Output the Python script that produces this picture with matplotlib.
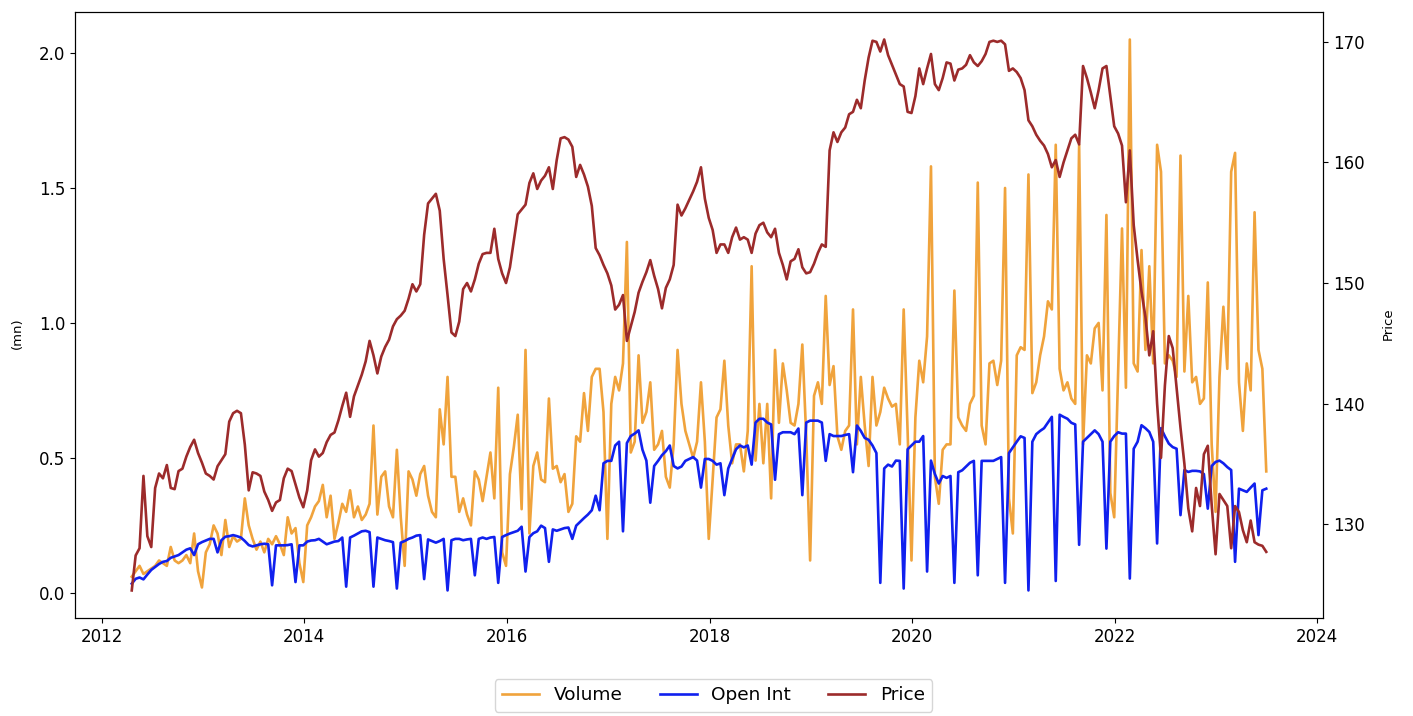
import matplotlib
matplotlib.use("Agg")
import matplotlib.pyplot as plt
import matplotlib.dates as mdates
from matplotlib.ticker import MultipleLocator
import pandas as pd

# ---- data (bi-weekly samples, Apr-2012 .. Jul-2023) ----
start_date = "2012-04-19"
end_date = "2023-07-01"

price = [
    # 2012.3 - 2014.2
    124.5, 127.4, 128.0, 134.0, 129.0, 128.1, 133.0, 134.2, 133.8, 134.9,
    133.0, 132.9, 134.4, 134.6, 135.6, 136.4, 137.0, 135.9, 135.1, 134.2,
    134.0, 133.7, 134.8, 135.3, 135.8, 138.5, 139.2, 139.4, 139.2, 136.6,
    132.8, 134.3, 134.2, 134.0, 132.7, 132.0, 131.1, 131.8, 132.0, 133.8,
    134.6, 134.4, 133.3, 132.2, 131.4, 132.8, 135.3, 136.2, 135.6, 135.9,
    136.8,
    # 2014.3 - 2016.1
    137.4, 137.6, 138.6, 139.8, 140.9, 138.9, 140.6, 141.5, 142.4, 143.5,
    145.2, 144.0, 142.5, 143.9, 144.7, 145.3, 146.4, 147.0, 147.3, 147.7,
    148.7, 149.9, 149.3, 149.9, 154.0, 156.6, 157.0, 157.4, 156.0, 152.0,
    149.0, 145.9, 145.6, 146.8, 149.5, 150.0, 149.3, 150.3, 151.6, 152.4,
    152.5, 152.5, 154.5, 152.0, 150.8, 150.0, 151.3, 153.5, 155.7,
    # 2016.1 - 2018.1
    156.1, 156.5, 158.3, 159.1, 157.8, 158.5, 158.9, 159.6, 157.8, 160.2,
    162.0, 162.1, 161.9, 161.3, 158.8, 159.8, 159.0, 158.0, 156.4, 152.9,
    152.3, 151.5, 150.8, 149.8, 147.8, 148.2, 149.0, 145.2, 146.4, 147.6,
    149.2, 150.1, 150.9, 151.9, 150.6, 149.5, 147.9, 149.6, 150.3, 151.5,
    156.5, 155.6, 156.2, 156.9, 157.6, 158.4, 159.6, 157.0, 155.4, 154.4,
    152.5, 153.2,
    # 2018.1 - 2020.1
    153.2, 152.5, 153.8, 154.6, 153.6, 153.8, 153.6, 152.5, 154.1, 154.8,
    155.0, 154.2, 153.8, 154.5, 152.5, 151.5, 150.3, 151.8, 152.0, 152.8,
    151.3, 150.8, 150.9, 151.6, 152.5, 153.2, 153.0, 161.0, 162.5, 161.7,
    162.5, 162.9, 164.0, 164.2, 165.2, 164.5, 166.8, 168.7, 170.1, 170.0,
    169.2, 170.2, 168.9, 168.1, 167.3, 166.5, 166.3, 164.2, 164.1, 165.5,
    167.8,
    # 2020.1 - 2021.1
    166.5, 167.8, 169.0, 166.5, 166.0, 167.0, 168.3, 168.2, 166.8, 167.7,
    167.8, 168.1, 168.9, 168.3, 168.0, 168.4, 169.0, 170.0, 170.1, 170.0,
    170.1, 169.8, 167.6, 167.8, 167.5, 167.0,
    # 2021.1 - 2022.0
    166.0, 163.5, 163.0, 162.3, 161.8, 161.4, 160.7, 159.6, 160.2, 158.8,
    160.0, 161.0, 162.0, 162.3, 161.5, 168.0, 167.0, 165.8, 164.5, 166.0,
    167.8, 168.0, 165.5, 163.0, 162.4,
    # 2022.1 - 2023.5
    161.4, 156.7, 161.0, 154.8, 151.9, 149.3, 147.2, 144.0, 146.0, 140.0,
    135.5, 141.5, 145.6, 144.6, 141.3, 138.0, 135.0, 131.3, 129.4, 133.0,
    131.5, 135.8, 136.5, 131.6, 127.5, 132.5, 132.0, 131.5, 128.0, 131.5,
    131.0, 129.5, 128.5, 130.3, 128.5, 128.3, 128.2, 127.7,
]

volume = [
    0.06, 0.08, 0.10, 0.07, 0.08, 0.09, 0.10, 0.12, 0.11, 0.10,
    0.17, 0.12, 0.11, 0.12, 0.14, 0.11, 0.22, 0.08, 0.02, 0.15,
    0.18, 0.25, 0.22, 0.14, 0.27, 0.17, 0.21, 0.19, 0.20, 0.35,
    0.25, 0.20, 0.16, 0.19, 0.15, 0.20, 0.18, 0.21, 0.18, 0.14,
    0.28, 0.22, 0.24, 0.11, 0.04, 0.25, 0.28, 0.32, 0.34, 0.40,
    0.28,
    0.36, 0.20, 0.26, 0.33, 0.30, 0.38, 0.28, 0.32, 0.27, 0.29,
    0.33, 0.62, 0.29, 0.43, 0.45, 0.32, 0.28, 0.53, 0.28, 0.10,
    0.45, 0.42, 0.36, 0.44, 0.47, 0.36, 0.30, 0.28, 0.68, 0.55,
    0.80, 0.43, 0.43, 0.30, 0.35, 0.29, 0.25, 0.45, 0.42, 0.34,
    0.43, 0.52, 0.35, 0.76, 0.15, 0.10, 0.44, 0.54, 0.66,
    0.31, 0.90, 0.22, 0.47, 0.52, 0.42, 0.41, 0.72, 0.46, 0.47,
    0.41, 0.44, 0.30, 0.33, 0.58, 0.56, 0.74, 0.60, 0.80, 0.83,
    0.83, 0.67, 0.20, 0.70, 0.80, 0.75, 0.85, 1.30, 0.52, 0.56,
    0.88, 0.63, 0.67, 0.78, 0.53, 0.55, 0.60, 0.43, 0.39, 0.55,
    0.90, 0.70, 0.60, 0.55, 0.50, 0.56, 0.78, 0.56, 0.20, 0.42,
    0.65, 0.68,
    0.86, 0.62, 0.48, 0.55, 0.55, 0.45, 0.60, 1.21, 0.49, 0.70,
    0.48, 0.70, 0.35, 0.90, 0.63, 0.85, 0.75, 0.63, 0.62, 0.70,
    0.92, 0.58, 0.12, 0.73, 0.78, 0.70, 1.10, 0.77, 0.84, 0.58,
    0.53, 0.60, 0.62, 1.05, 0.55, 0.80, 0.62, 0.47, 0.80, 0.62,
    0.67, 0.76, 0.72, 0.69, 0.70, 0.55, 1.05, 0.60, 0.12, 0.65,
    0.86,
    0.78, 0.95, 1.58, 0.43, 0.33, 0.53, 0.55, 0.55, 1.12, 0.65,
    0.62, 0.60, 0.70, 0.73, 1.52, 0.62, 0.55, 0.85, 0.86, 0.77,
    0.86, 1.50, 0.35, 0.22, 0.88, 0.91,
    0.90, 1.55, 0.74, 0.78, 0.88, 0.95, 1.08, 1.05, 1.66, 0.83,
    0.75, 0.78, 0.72, 0.70, 1.66, 0.55, 0.88, 0.85, 0.98, 1.00,
    0.75, 1.40, 0.37, 0.28, 0.82,
    1.35, 0.76, 2.05, 0.85, 0.82, 1.27, 0.90, 1.21, 0.85, 1.66,
    1.56, 0.85, 0.88, 0.86, 0.80, 1.62, 0.82, 1.10, 0.78, 0.80,
    0.70, 0.72, 1.15, 0.55, 0.30, 0.80, 1.06, 0.83, 1.56, 1.63,
    0.78, 0.60, 0.85, 0.75, 1.41, 0.90, 0.83, 0.45,
]

open_int = [
    0.034, 0.052, 0.057, 0.050, 0.068, 0.085, 0.096, 0.107, 0.115, 0.118,
    0.130, 0.135, 0.140, 0.150, 0.160, 0.165, 0.140, 0.180, 0.188, 0.194,
    0.200, 0.200, 0.150, 0.195, 0.208, 0.210, 0.214, 0.210, 0.205, 0.192,
    0.177, 0.172, 0.176, 0.180, 0.182, 0.180, 0.028, 0.176, 0.176, 0.176,
    0.177, 0.180, 0.040, 0.176, 0.176, 0.190, 0.194, 0.195, 0.200, 0.190,
    0.180,
    0.185, 0.190, 0.192, 0.205, 0.023, 0.205, 0.212, 0.220, 0.228, 0.230,
    0.225, 0.023, 0.205, 0.200, 0.195, 0.192, 0.188, 0.016, 0.186, 0.192,
    0.200, 0.205, 0.212, 0.214, 0.051, 0.198, 0.192, 0.186, 0.192, 0.200,
    0.009, 0.195, 0.200, 0.200, 0.195, 0.198, 0.200, 0.065, 0.200, 0.205,
    0.200, 0.205, 0.207, 0.037, 0.207, 0.214, 0.220, 0.225, 0.230,
    0.245, 0.079, 0.207, 0.221, 0.228, 0.249, 0.240, 0.115, 0.235, 0.230,
    0.235, 0.240, 0.242, 0.200, 0.249, 0.263, 0.277, 0.290, 0.306, 0.360,
    0.306, 0.480, 0.489, 0.489, 0.546, 0.560, 0.228, 0.555, 0.581, 0.590,
    0.602, 0.530, 0.490, 0.334, 0.470, 0.489, 0.510, 0.525, 0.546, 0.470,
    0.461, 0.468, 0.489, 0.496, 0.503, 0.490, 0.390, 0.496, 0.496, 0.489,
    0.475, 0.480,
    0.362, 0.461, 0.496, 0.532, 0.546, 0.539, 0.546, 0.475, 0.631, 0.645,
    0.645, 0.631, 0.624, 0.419, 0.588, 0.595, 0.595, 0.595, 0.588, 0.609,
    0.362, 0.631, 0.638, 0.638, 0.638, 0.631, 0.489, 0.588, 0.581, 0.581,
    0.581, 0.585, 0.588, 0.447, 0.620, 0.600, 0.574, 0.567, 0.546, 0.518,
    0.037, 0.461, 0.475, 0.468, 0.490, 0.489, 0.016, 0.532, 0.546, 0.560,
    0.560,
    0.581, 0.079, 0.490, 0.440, 0.405, 0.433, 0.426, 0.433, 0.037, 0.447,
    0.454, 0.468, 0.482, 0.489, 0.065, 0.489, 0.489, 0.489, 0.489, 0.496,
    0.503, 0.037, 0.518, 0.539, 0.560, 0.580,
    0.574, 0.009, 0.560, 0.588, 0.600, 0.610, 0.631, 0.652, 0.044, 0.660,
    0.652, 0.645, 0.630, 0.624, 0.178, 0.560, 0.574, 0.588, 0.602, 0.588,
    0.560, 0.164, 0.560, 0.581, 0.595,
    0.590, 0.590, 0.053, 0.534, 0.560, 0.621, 0.610, 0.596, 0.560, 0.183,
    0.610, 0.580, 0.553, 0.540, 0.534, 0.288, 0.455, 0.448, 0.452, 0.452,
    0.450, 0.440, 0.312, 0.470, 0.485, 0.490, 0.480, 0.466, 0.455, 0.115,
    0.386, 0.380, 0.374, 0.390, 0.405, 0.214, 0.380, 0.386,
]

series_labels = ["Volume", "Open Int", "Price"]
left_label = "(mn)"
right_label = "Price"

# ---- plot ----
c_vol = "#F0A33C"
c_oi = "#1020EE"
c_price = "#9C2B2B"

fig = plt.figure(figsize=(14.13, 7.16), dpi=100)
ax = fig.add_axes([0.0531, 0.1369, 0.8832, 0.8464])

d_price = pd.date_range(start_date, end_date, periods=len(price))
d_vol = pd.date_range(start_date, end_date, periods=len(volume))
d_oi = pd.date_range(start_date, end_date, periods=len(open_int))

l1, = ax.plot(d_vol, volume, color=c_vol, lw=1.9, label=series_labels[0])
l2, = ax.plot(d_oi, open_int, color=c_oi, lw=1.9, label=series_labels[1])
ax2 = ax.twinx()
l3, = ax2.plot(d_price, price, color=c_price, lw=1.9, label=series_labels[2])

ax.xaxis.set_major_locator(mdates.YearLocator(2))
ax.xaxis.set_major_formatter(mdates.DateFormatter("%Y"))
ax.yaxis.set_major_locator(MultipleLocator(0.5))
ax.yaxis.set_major_formatter(matplotlib.ticker.FormatStrFormatter("%.1f"))
ax.tick_params(labelsize=12)
ax2.tick_params(labelsize=12)

ax.set_ylabel(left_label, fontsize=9.5)
ax2.set_ylabel(right_label, fontsize=9.5)
ax.yaxis.set_label_coords(-0.041, 0.47)
ax2.yaxis.set_label_coords(1.047, 0.485)

fig.legend([l1, l2, l3], series_labels, loc="lower center", ncol=3,
           bbox_to_anchor=(0.505, 0.006), fontsize=13.3, borderaxespad=0)

fig.savefig("out.png", dpi=100)
